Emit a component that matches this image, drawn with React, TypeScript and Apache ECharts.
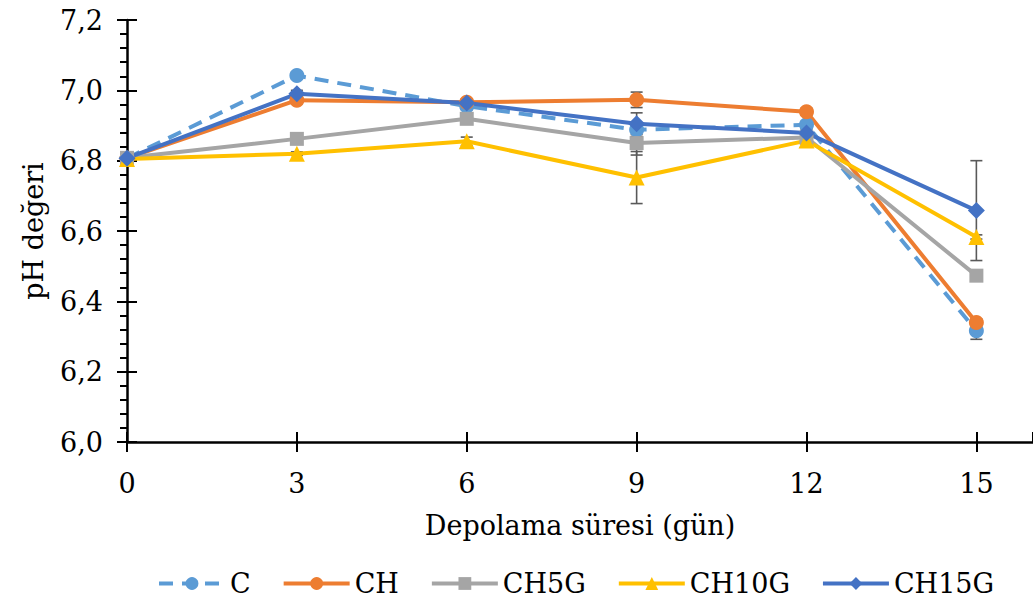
import React, { useEffect, useRef } from "react";
import * as echarts from "echarts";

const days = [0, 3, 6, 9, 12, 15];
const seriesNames = ["C", "CH", "CH5G", "CH10G", "CH15G"];
const valC = [6.807, 7.042, 6.955, 6.888, 6.902, 6.316];
const valCH = [6.807, 6.972, 6.966, 6.973, 6.939, 6.34];
const valCH5G = [6.808, 6.862, 6.919, 6.85, 6.866, 6.473];
const valCH10G = [6.805, 6.82, 6.855, 6.752, 6.857, 6.583];
const valCH15G = [6.807, 6.99, 6.964, 6.905, 6.879, 6.658];
const errC = [0.01, 0.01, 0.01, 0.02, 0.01, 0.024];
const errCH = [0.01, 0.01, 0.01, 0.022, 0.01, 0.01];
const errCH5G = [0.01, 0.01, 0.01, 0.034, 0.01, 0.01];
const errCH10G = [0.005, 0.005, 0.012, 0.074, 0.01, 0.006];
const errCH15G = [0.01, 0.01, 0.01, 0.031, 0.01, 0.142];
const yTicks = ["6,0", "6,2", "6,4", "6,6", "6,8", "7,0", "7,2"];

const FONT = "DejaVu Serif";
const colors = ["#5B9BD5", "#ED7D31", "#A5A5A5", "#FFC000", "#4472C4"];
const symbols = ["circle", "circle", "rect", "triangle", "diamond"];
const symbolSizes = [15, 15, 14, 16, 17];

export default function App() {
  const ref = useRef<HTMLDivElement>(null);
  useEffect(() => {
    if (!ref.current) return;
    const chart = echarts.init(ref.current, null, { renderer: "svg" });
    const vals = [valC, valCH, valCH5G, valCH10G, valCH15G];
    const errs = [errC, errCH, errCH5G, errCH10G, errCH15G];

    const errSeries = vals.map((v, i) => ({
      type: "custom",
      name: "err" + seriesNames[i],
      z: 1,
      silent: true,
      data: days.map((d, j) => [d, v[j], errs[i][j]]),
      renderItem: (params: any, api: any) => {
        const x = api.value(0);
        const y = api.value(1);
        const e = api.value(2);
        const t = api.coord([x, y + e]);
        const b = api.coord([x, y - e]);
        const hw = 6;
        const st = { stroke: "#595959", lineWidth: 1.6 };
        return {
          type: "group",
          children: [
            { type: "line", shape: { x1: t[0], y1: t[1], x2: b[0], y2: b[1] }, style: st },
            { type: "line", shape: { x1: t[0] - hw, y1: t[1], x2: t[0] + hw, y2: t[1] }, style: st },
            { type: "line", shape: { x1: b[0] - hw, y1: b[1], x2: b[0] + hw, y2: b[1] }, style: st },
          ],
        };
      },
    }));

    const lineSeries = vals.map((v, i) => ({
      type: "line",
      name: seriesNames[i],
      z: 3,
      data: days.map((d, j) => [d, v[j]]),
      symbol: symbols[i],
      symbolSize: symbolSizes[i],
      showAllSymbol: true,
      itemStyle: { color: colors[i] },
      lineStyle: { color: colors[i], width: 4, type: i === 0 ? [14, 9] : "solid" },
    }));

    const axisLabelStyle = { color: "#000", fontFamily: FONT, fontSize: 27 };

    chart.setOption({
      animation: false,
      backgroundColor: "#fff",
      grid: { left: 127, top: 20, right: -4, bottom: 162, containLabel: false },
      legend: {
        data: seriesNames,
        bottom: 2,
        left: 152,
        itemWidth: 66,
        itemHeight: 16,
        itemGap: 31,
        lineStyle: { width: 4 },
        textStyle: { color: "#000", fontFamily: FONT, fontSize: 27 },
      },
      xAxis: [
        {
          type: "value",
          min: 0,
          max: 16,
          interval: 3,
          name: "Depolama süresi (gün)",
          nameLocation: "middle",
          nameGap: 70,
          nameTextStyle: axisLabelStyle,
          axisLine: { lineStyle: { color: "#000", width: 2.5 } },
          axisTick: { show: true, length: 10, lineStyle: { color: "#000", width: 2 } },
          axisLabel: { ...axisLabelStyle, margin: 28, showMaxLabel: false },
          splitLine: { show: false },
        },
        {
          type: "value",
          min: 0,
          max: 16,
          interval: 3,
          position: "bottom",
          axisLine: { show: false },
          axisTick: { show: true, inside: true, length: 10, lineStyle: { color: "#000", width: 2 } },
          axisLabel: { show: false },
          splitLine: { show: false },
        },
      ],
      yAxis: [
        {
          type: "value",
          min: 6,
          max: 7.2,
          interval: 0.2,
          name: "pH değeri",
          nameLocation: "middle",
          nameGap: 80,
          nameTextStyle: axisLabelStyle,
          axisLine: { show: true, lineStyle: { color: "#000", width: 2.5 } },
          axisTick: { show: true, length: 10, lineStyle: { color: "#000", width: 2 } },
          minorTick: { show: true, splitNumber: 5, length: 7, lineStyle: { color: "#000", width: 2 } },
          axisLabel: {
            ...axisLabelStyle,
            margin: 24,
            formatter: (v: number) => yTicks[Math.round((v - 6) / 0.2)] ?? "",
          },
          splitLine: { show: false },
        },
        {
          type: "value",
          min: 6,
          max: 7.2,
          interval: 0.2,
          position: "left",
          axisLine: { show: false },
          axisTick: { show: true, inside: true, length: 10, lineStyle: { color: "#000", width: 2 } },
          axisLabel: { show: false },
          splitLine: { show: false },
        },
      ],
      series: [...errSeries, ...lineSeries],
    });
    return () => chart.dispose();
  }, []);
  return (
    <div
      ref={ref}
      style={{ position: "fixed", left: 0, top: 0, width: 1033, height: 604 }}
    />
  );
}
